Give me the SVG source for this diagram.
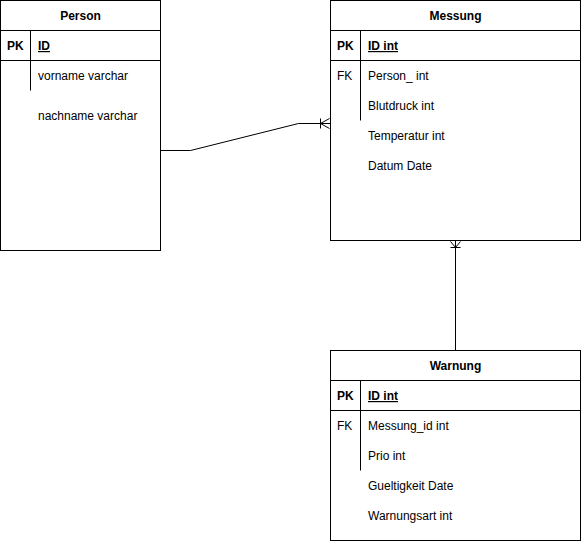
<svg xmlns="http://www.w3.org/2000/svg" width="581" height="541" viewBox="0 0 581 541">
<style>
.box{fill:#fff;stroke:#000;stroke-width:1}
.ln{stroke:#000;stroke-width:1;fill:none}
text{font-family:"Liberation Sans",Arial,sans-serif;font-size:12px;fill:#000}
.h{font-weight:bold;text-anchor:middle}
.b{font-weight:bold}
.u{text-decoration:underline}
</style>
<rect width="581" height="541" fill="#fff"/>
<g id="person">
<rect class="box" x="0.5" y="0.5" width="160" height="250"/>
<line class="ln" x1="0.5" y1="30.5" x2="160.5" y2="30.5"/>
<line class="ln" x1="0.5" y1="60.5" x2="160.5" y2="60.5"/>
<line class="ln" x1="30.5" y1="30.5" x2="30.5" y2="90.5"/>
<text class="h" x="80.5" y="20">Person</text>
<text class="b" x="7" y="50">PK</text>
<text class="b u" x="38" y="50">ID</text>
<text x="38" y="80">vorname varchar</text>
<text x="38" y="120">nachname varchar</text>
</g>
<g id="messung">
<rect class="box" x="330.5" y="0.5" width="250" height="240"/>
<line class="ln" x1="330.5" y1="30.5" x2="580.5" y2="30.5"/>
<line class="ln" x1="330.5" y1="60.5" x2="580.5" y2="60.5"/>
<line class="ln" x1="360.5" y1="30.5" x2="360.5" y2="120.5"/>
<text class="h" x="455.5" y="20">Messung</text>
<text class="b" x="337" y="50">PK</text>
<text class="b u" x="368" y="50">ID int</text>
<text x="337" y="80">FK</text>
<text x="368" y="80">Person_ int</text>
<text x="368" y="110">Blutdruck int</text>
<text x="368" y="140">Temperatur int</text>
<text x="368" y="170">Datum Date</text>
</g>
<g id="warnung">
<rect class="box" x="330.5" y="350.5" width="250" height="190"/>
<line class="ln" x1="330.5" y1="380.5" x2="580.5" y2="380.5"/>
<line class="ln" x1="330.5" y1="410.5" x2="580.5" y2="410.5"/>
<line class="ln" x1="360.5" y1="380.5" x2="360.5" y2="470.5"/>
<text class="h" x="455.5" y="370">Warnung</text>
<text class="b" x="337" y="400">PK</text>
<text class="b u" x="368" y="400">ID int</text>
<text x="337" y="430">FK</text>
<text x="368" y="430">Messung_id int</text>
<text x="368" y="460">Prio int</text>
<text x="368" y="490">Gueltigkeit Date</text>
<text x="368" y="520">Warnungsart int</text>
</g>
<g id="connectors">
<polyline class="ln" points="160.5,150.5 190.5,150.5 298.5,123.5 330.5,123.5"/>
<line class="ln" x1="320.5" y1="118.5" x2="320.5" y2="128.5"/>
<polyline class="ln" points="329.5,118.5 320.5,123.5 329.5,128.5"/>
<line class="ln" x1="455.5" y1="240.5" x2="455.5" y2="350.5"/>
<line class="ln" x1="450.5" y1="247.5" x2="460.5" y2="247.5"/>
<polyline class="ln" points="450.5,241.5 455.5,247.5 460.5,241.5"/>
</g>
</svg>
